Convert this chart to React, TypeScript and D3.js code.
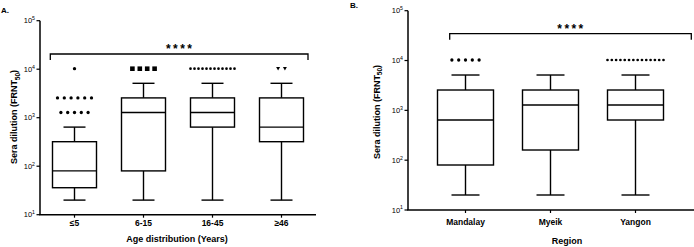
import React from "react";
import * as d3 from "d3";

// ---- Data: panel A (age groups) ----
const catsA = ["≤5", "6-15", "16-45", "≥46"];
const minA = [20, 20, 20, 20];
const q1A = [36, 80, 640, 320];
const medA = [80, 1280, 1280, 640];
const q3A = [320, 2560, 2560, 2560];
const maxA = [640, 5120, 5120, 5120];
const outliersA: number[][] = [
  [10240, 2560, 2560, 2560, 2560, 2560, 2560, 1280, 1280, 1280, 1280, 1280],
  [10240, 10240, 10240, 10240],
  [10240, 10240, 10240, 10240, 10240, 10240, 10240, 10240, 10240, 10240, 10240, 10240],
  [10240, 10240],
];
const markersA = ["circle", "square", "smallcircle", "triangle"];

// ---- Data: panel B (regions) ----
const catsB = ["Mandalay", "Myeik", "Yangon"];
const minB = [20, 20, 20];
const q1B = [80, 160, 640];
const medB = [640, 1280, 1280];
const q3B = [2560, 2560, 2560];
const maxB = [5120, 5120, 5120];
const outliersB: number[][] = [
  [10240, 10240, 10240, 10240, 10240],
  [],
  [10240, 10240, 10240, 10240, 10240, 10240, 10240, 10240, 10240, 10240, 10240, 10240, 10240, 10240],
];
const markersB = ["circle", "circle", "smallcircle"];

const yTickVals = [10, 100, 1000, 10000, 100000];
const yTickExp = ["1", "2", "3", "4", "5"];

const FONT = "Liberation Sans, Arial, sans-serif";

type PanelProps = {
  label: string;
  labelX: number;
  labelY: number;
  cats: string[];
  mins: number[];
  q1s: number[];
  meds: number[];
  q3s: number[];
  maxs: number[];
  outliers: number[][];
  markers: string[];
  axisX: number;
  axisEnd: number;
  yTop: number;
  yBottom: number;
  catRange: [number, number];
  boxW: number;
  bracketY: number;
  bracketX: [number, number];
  yTitle: { x: number; y: number };
  xTitle: string;
  xTitlePos: { x: number; y: number };
  xTickY: number;
};

function Marker({ type, x, y }: { type: string; x: number; y: number }) {
  if (type === "square") return <rect x={x - 2.3} y={y - 2.3} width={4.6} height={4.6} fill="#000" />;
  if (type === "triangle")
    return <path d={`M${x - 2},${y - 1.7}L${x + 2},${y - 1.7}L${x},${y + 1.9}Z`} fill="#000" />;
  if (type === "smallcircle") return <circle cx={x} cy={y} r={1.35} fill="#000" />;
  return <circle cx={x} cy={y} r={1.65} fill="#000" />;
}

function Panel(p: PanelProps) {
  const y = d3.scaleLog().domain([10, 100000]).range([p.yBottom, p.yTop]);
  const x = d3.scalePoint<string>().domain(p.cats).range(p.catRange);
  const sw = 1.4;
  return (
    <g fontFamily={FONT}>
      <text x={p.labelX} y={p.labelY} fontSize={8} fontWeight="bold">{p.label}</text>
      {/* axes */}
      <line x1={p.axisX} x2={p.axisX} y1={p.yTop} y2={p.yBottom} stroke="#000" strokeWidth={1.5} />
      <line x1={p.axisX - 0.75} x2={p.axisEnd} y1={p.yBottom} y2={p.yBottom} stroke="#000" strokeWidth={1.5} />
      {yTickVals.map((v, i) => (
        <g key={v}>
          <line x1={p.axisX - 3.5} x2={p.axisX} y1={y(v)} y2={y(v)} stroke="#000" strokeWidth={1.2} />
          <text x={p.axisX - 5} y={y(v) + 2.6} fontSize={7.5} textAnchor="end">
            10<tspan dy={-3.2} fontSize={5.2}>{yTickExp[i]}</tspan>
          </text>
        </g>
      ))}
      {p.cats.map((c) => (
        <g key={c}>
          <line x1={x(c)!} x2={x(c)!} y1={p.yBottom} y2={p.yBottom + 3} stroke="#000" strokeWidth={1.2} />
          <text x={x(c)!} y={p.xTickY} fontSize={8.5} fontWeight="bold" textAnchor="middle">{c}</text>
        </g>
      ))}
      <text
        transform={`translate(${p.yTitle.x},${p.yTitle.y}) rotate(-90)`}
        fontSize={9}
        fontWeight="bold"
        textAnchor="middle"
      >
        Sera dilution (FRNT<tspan dy={2.5} fontSize={6.5}>50</tspan><tspan dy={-2.5}>)</tspan>
      </text>
      <text x={p.xTitlePos.x} y={p.xTitlePos.y} fontSize={9} fontWeight="bold" textAnchor="middle">{p.xTitle}</text>
      {/* boxes */}
      {p.cats.map((c, i) => {
        const cx = x(c)!;
        const hw = p.boxW / 2;
        const cw = p.boxW / 4;
        return (
          <g key={c} stroke="#000" strokeWidth={sw} fill="none">
            <line x1={cx} x2={cx} y1={y(p.maxs[i])} y2={y(p.q3s[i])} />
            <line x1={cx} x2={cx} y1={y(p.q1s[i])} y2={y(p.mins[i])} />
            <line x1={cx - cw} x2={cx + cw} y1={y(p.maxs[i])} y2={y(p.maxs[i])} />
            <line x1={cx - cw} x2={cx + cw} y1={y(p.mins[i])} y2={y(p.mins[i])} />
            <rect x={cx - hw} y={y(p.q3s[i])} width={p.boxW} height={y(p.q1s[i]) - y(p.q3s[i])} fill="#fff" />
            <line x1={cx - hw} x2={cx + hw} y1={y(p.meds[i])} y2={y(p.meds[i])} />
          </g>
        );
      })}
      {/* outliers */}
      {p.cats.map((c, i) => {
        const cx = x(c)!;
        const groups = d3.groups(p.outliers[i], (v) => v);
        const maxSp = p.markers[i] === "square" ? 7.4 : 6.8;
        return groups.map(([val, arr]) => {
          const n = arr.length;
          const sp = n > 1 ? Math.min(maxSp, p.boxW / (n - 1)) : 0;
          return arr.map((_, k) => (
            <Marker key={`${c}-${val}-${k}`} type={p.markers[i]} x={cx + (k - (n - 1) / 2) * sp} y={y(val)} />
          ));
        });
      })}
      {/* significance bracket */}
      <path
        d={`M${p.bracketX[0]},${p.bracketY + 6}V${p.bracketY}H${p.bracketX[1]}V${p.bracketY + 6}`}
        fill="none"
        stroke="#000"
        strokeWidth={1.3}
      />
      <text
        x={(p.bracketX[0] + p.bracketX[1]) / 2 + 1}
        y={p.bracketY - 1}
        fontSize={12}
        fontWeight="bold"
        letterSpacing={2.4}
        textAnchor="middle"
      >
        ****
      </text>
    </g>
  );
}

export default function App() {
  return (
    <svg width={694} height={247} style={{ position: "absolute", left: 0, top: 0, background: "#fff" }}>
      <rect width={694} height={247} fill="#fff" />
      <Panel
        label="A."
        labelX={1}
        labelY={13}
        cats={catsA}
        mins={minA}
        q1s={q1A}
        meds={medA}
        q3s={q3A}
        maxs={maxA}
        outliers={outliersA}
        markers={markersA}
        axisX={40}
        axisEnd={316}
        yTop={20.7}
        yBottom={214.7}
        catRange={[74.5, 281.5]}
        boxW={44}
        bracketY={54}
        bracketX={[50.3, 308]}
        yTitle={{ x: 17, y: 117 }}
        xTitle="Age distribution (Years)"
        xTitlePos={{ x: 177, y: 241.5 }}
        xTickY={225.7}
      />
      <Panel
        label="B."
        labelX={350}
        labelY={8}
        cats={catsB}
        mins={minB}
        q1s={q1B}
        meds={medB}
        q3s={q3B}
        maxs={maxB}
        outliers={outliersB}
        markers={markersB}
        axisX={408}
        axisEnd={694}
        yTop={10.7}
        yBottom={210}
        catRange={[465.5, 635.5]}
        boxW={56}
        bracketY={33.7}
        bracketX={[449.7, 691.3]}
        yTitle={{ x: 379.5, y: 112 }}
        xTitle="Region"
        xTitlePos={{ x: 567, y: 244 }}
        xTickY={224.7}
      />
    </svg>
  );
}
